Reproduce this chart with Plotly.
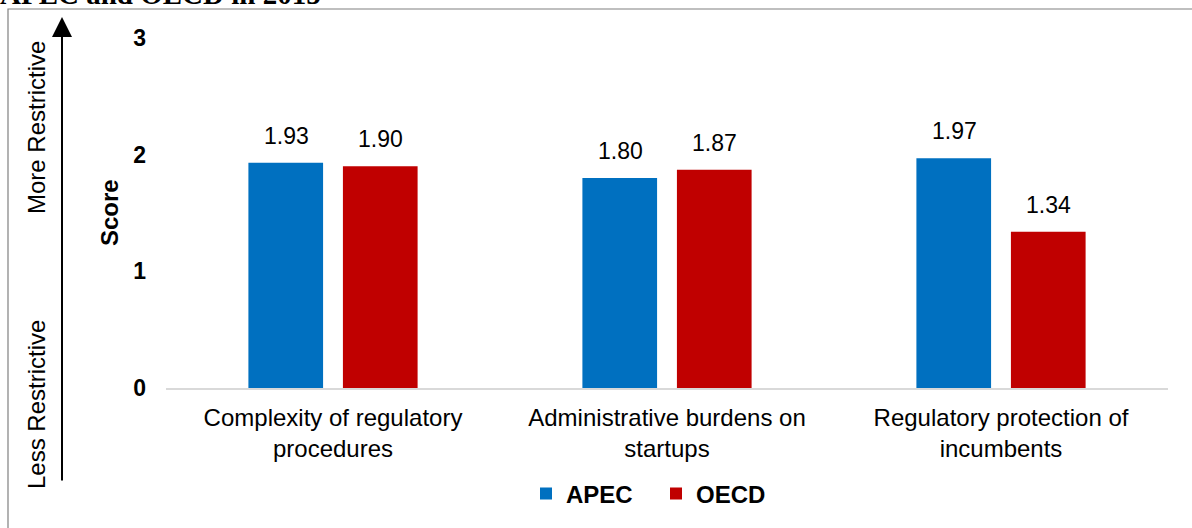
import plotly.graph_objects as go

categories = ["Complexity of regulatory<br>procedures",
              "Administrative burdens on<br>startups",
              "Regulatory protection of<br>incumbents"]
apec = [1.93, 1.80, 1.97]
oecd = [1.90, 1.87, 1.34]
series_names = ["APEC", "OECD"]
colors = ["#0070C0", "#C00000"]
y_ticks = [0, 1, 2, 3]

FONT = "Liberation Sans, Arial, sans-serif"

# plot-area geometry in pixels
L, R, T, B = 166, 24, 38, 140
W, H = 1192 - L - R, 528 - T - B

def px(x):
    return (x - L) / W

def py(y):
    return (528 - B - y) / H

fig = go.Figure()
for name, vals, col, lg in zip(series_names, [apec, oecd], colors, ["legend", "legend2"]):
    fig.add_trace(go.Bar(
        x=categories, y=vals, name=name, legend=lg,
        marker=dict(color=col, line=dict(width=0)),
    ))

# data labels
for vals, shift in zip([apec, oecd], [-47, 47]):
    for c, v in zip(categories, vals):
        fig.add_annotation(
            x=c, y=v, xref="x", yref="y", text=f"{v:.2f}",
            showarrow=False, xshift=shift, yanchor="bottom", yshift=12,
            font=dict(family=FONT, size=23, color="#000000"),
        )

# title (clipped at the top)
fig.add_annotation(
    x=px(-2), y=1, xref="paper", yref="paper", xanchor="left", yanchor="middle",
    yshift=44, text="<b>APEC and OECD in 2015</b>", showarrow=False,
    font=dict(family="Liberation Serif, Times New Roman, serif", size=29, color="#000000"),
)
# y-axis title
fig.add_annotation(
    x=px(109), y=py(213), xref="paper", yref="paper", text="<b>Score</b>",
    textangle=-90, showarrow=False, xanchor="center", yanchor="middle",
    font=dict(family=FONT, size=24, color="#000000"),
)
fig.add_annotation(
    x=px(37), y=py(128), xref="paper", yref="paper", text="More Restrictive",
    textangle=-90, showarrow=False, xanchor="center", yanchor="middle",
    font=dict(family=FONT, size=24, color="#000000"),
)
fig.add_annotation(
    x=px(37), y=py(405), xref="paper", yref="paper", text="Less Restrictive",
    textangle=-90, showarrow=False, xanchor="center", yanchor="middle",
    font=dict(family=FONT, size=24, color="#000000"),
)
# arrow
fig.add_annotation(
    x=px(62), y=py(17), xref="paper", yref="paper", ax=0, ay=465,
    text="", showarrow=True, arrowhead=2, arrowsize=2, arrowwidth=2,
    arrowcolor="#000000",
)

# outer border box (extends beyond the right and bottom edges)
fig.add_shape(
    type="rect", xref="paper", yref="paper",
    x0=px(8), x1=px(1205), y0=py(9), y1=py(545),
    line=dict(color="#808080", width=1.2), fillcolor="rgba(0,0,0,0)",
)

legend_font = dict(family=FONT, size=24, color="#000000", weight="bold")
fig.update_layout(
    width=1192, height=528,
    margin=dict(l=L, r=R, t=T, b=B, autoexpand=False),
    paper_bgcolor="white", plot_bgcolor="white",
    barmode="group", bargap=0.434, bargroupgap=0.21,
    font=dict(family=FONT, size=24, color="#000000"),
    showlegend=True,
    legend=dict(
        orientation="h", x=px(526), xanchor="left", y=py(494), yanchor="middle",
        font=legend_font, itemclick=False, bgcolor="rgba(0,0,0,0)",
    ),
    legend2=dict(
        orientation="h", x=px(656), xanchor="left", y=py(494), yanchor="middle",
        font=legend_font, itemclick=False, bgcolor="rgba(0,0,0,0)",
    ),
    xaxis=dict(
        showline=True, linecolor="#d9d9d9", linewidth=1.5,
        showgrid=False, ticks="", tickfont=dict(family=FONT, size=24, color="#000000"),
        ticklabelstandoff=7,
    ),
    yaxis=dict(
        range=[0, 3], tickvals=y_ticks, showgrid=False, zeroline=False,
        showline=False, ticks="",
        tickfont=dict(family=FONT, size=23, color="#000000", weight="bold"),
        ticklabelstandoff=19,
    ),
)

fig.write_html("out.html")
